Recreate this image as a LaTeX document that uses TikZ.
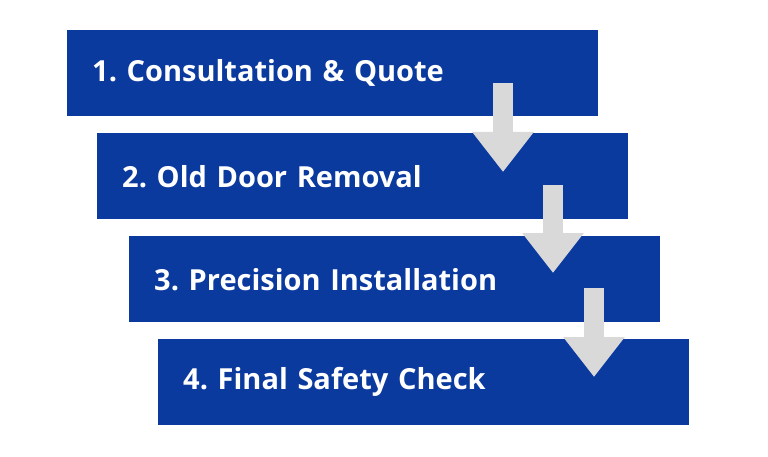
\documentclass[tikz,border=0pt]{standalone}
\usepackage{fontspec}
\setmainfont{Open Sans}
\usetikzlibrary{arrows.meta, calc}
\definecolor{stepBlue}{HTML}{0B3A9E}
\definecolor{arrowGray}{HTML}{D9D9D9}
\frenchspacing

\begin{document}
\begin{tikzpicture}[
  x=1pt, y=-1pt,
  stepbox/.style={fill=stepBlue, anchor=north west, minimum width=531pt, minimum height=86pt,
    text width=481pt, inner xsep=25pt, align=left, text=white, font=\bfseries\fontsize{29}{34}\selectfont},
  downarrow/.style={arrowGray, line width=20pt, -{Triangle[width=59pt, length=40pt]}}
]
\useasboundingbox (0,0) rectangle (768,457);

\node[stepbox] (consult) at (67,30) {1. Consultation \& Quote};
\node[stepbox] (removal) at (97,133) {2. Old Door Removal};
\node[stepbox] (install) at (129,236) {3. Precision Installation};
\node[stepbox] (check) at (158,339) {4. Final Safety Check};

% arrows sit on top of the boxes
\coordinate (a1) at (503,83);
\coordinate (t1) at (503,172);
\coordinate (a2) at (553,185);
\coordinate (t2) at (553,273);
\coordinate (a3) at (594,288);
\coordinate (t3) at (594,377);

\draw[downarrow] (a1) -- (t1);
\draw[downarrow] (a2) -- (t2);
\draw[downarrow] (a3) -- (t3);
\end{tikzpicture}
\end{document}
